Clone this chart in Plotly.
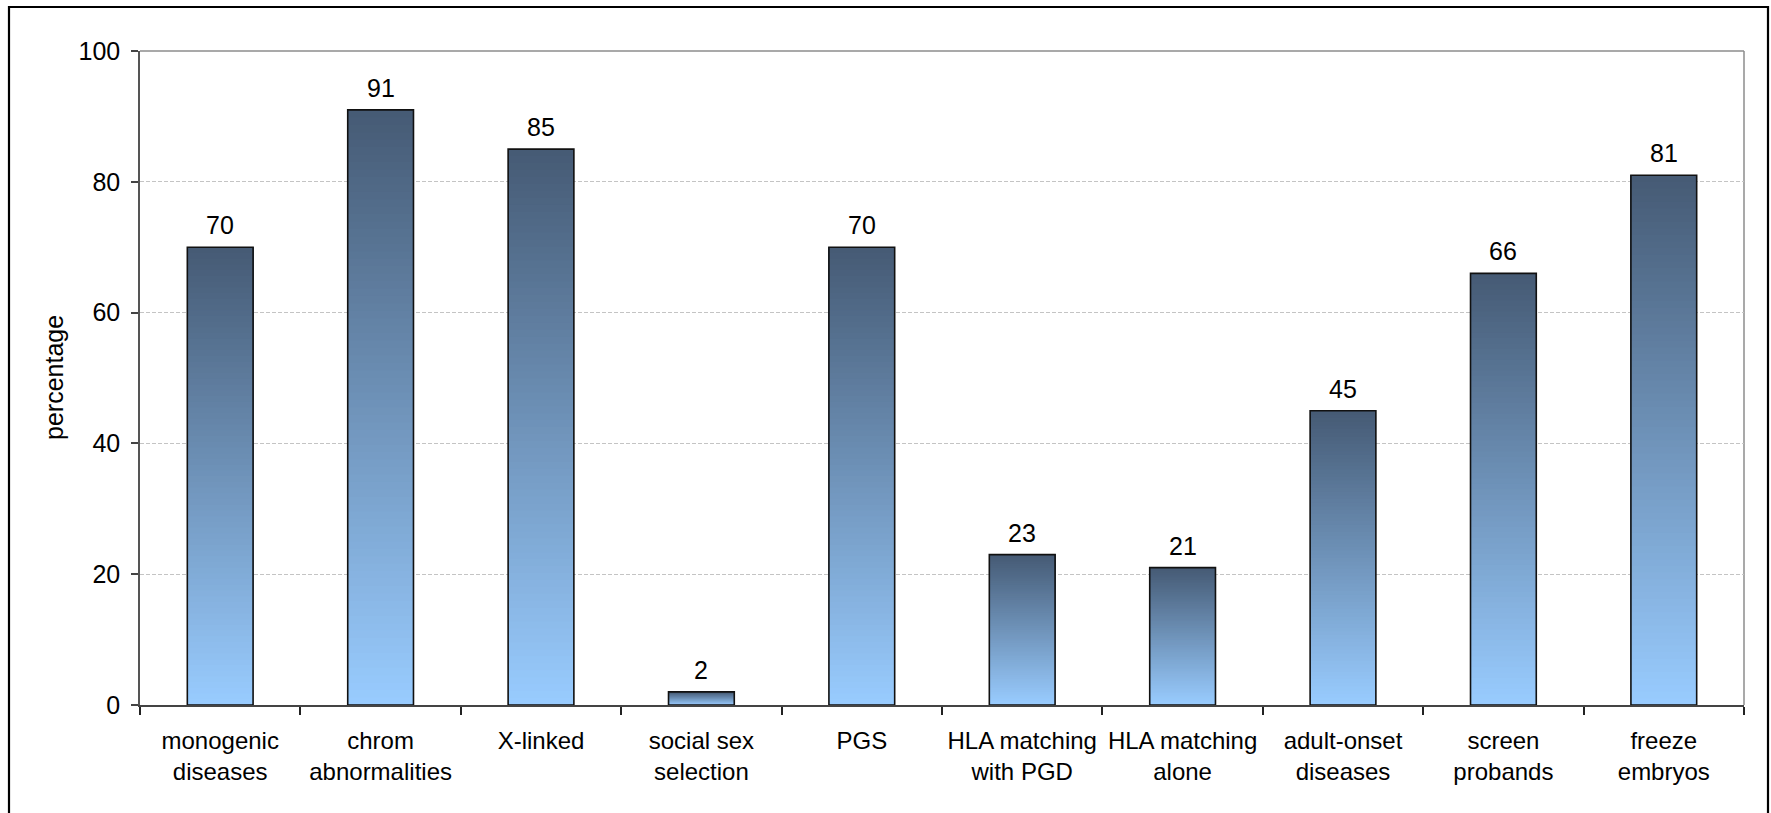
import plotly.graph_objects as go

# Survey results: share of respondents (%) per use of embryo testing
categories = [
    "monogenic<br>diseases", "chrom<br>abnormalities", "X-linked",
    "social sex<br>selection", "PGS", "HLA matching<br>with PGD",
    "HLA matching<br>alone", "adult-onset<br>diseases", "screen<br>probands",
    "freeze<br>embryos",
]
values = [70, 91, 85, 2, 70, 23, 21, 45, 66, 81]
y_ticks = [0, 20, 40, 60, 80, 100]

W, H = 1771, 813
L, R, T, B = 140, 27, 51, 108
FONT = "Liberation Sans, Arial, sans-serif"

TOP_RGB = (0x45, 0x5A, 0x74)
BOT_RGB = (0x99, 0xCC, 0xFF)
N_STEPS = 80
BAR_WIDTH = 0.41


def blend(t):
    # t = 0 at the bar base, 1 at the bar top
    r, g, b = (round(BOT_RGB[i] + (TOP_RGB[i] - BOT_RGB[i]) * t) for i in range(3))
    return f"rgb({r},{g},{b})"


fig = go.Figure()

# Vertical gradient: each layer starts a little higher and runs up to the
# bar top, so later layers paint over earlier ones without seams.
for k in range(N_STEPS):
    frac = k / N_STEPS
    fig.add_trace(go.Bar(
        x=categories,
        y=[v * (1 - frac) for v in values],
        base=[v * frac for v in values],
        width=BAR_WIDTH,
        marker=dict(color=blend((k + 0.5) / N_STEPS), line=dict(width=0)),
        hoverinfo="skip",
        showlegend=False,
    ))

# Outline of each bar
fig.add_trace(go.Bar(
    x=categories,
    y=values,
    base=0,
    width=BAR_WIDTH,
    marker=dict(color="rgba(0,0,0,0)", line=dict(color="#111111", width=1.6)),
    showlegend=False,
))

# Value labels above the bars
for c, v in zip(categories, values):
    fig.add_annotation(
        x=c, y=v, text=str(v), showarrow=False,
        yanchor="bottom", yshift=6,
        font=dict(family=FONT, size=25, color="black"),
    )

plot_w = W - L - R
plot_h = H - T - B

# y-axis title
fig.add_annotation(
    xref="paper", yref="paper",
    x=-(L - 54) / plot_w, y=0.5,
    text="percentage", textangle=-90, showarrow=False,
    xanchor="center", yanchor="middle",
    font=dict(family=FONT, size=25, color="black"),
)

# Plot-area top and right edges
fig.add_shape(type="line", xref="paper", yref="paper", x0=0, x1=1, y0=1, y1=1,
              line=dict(color="#8c8c8c", width=1.5), layer="below")
fig.add_shape(type="line", xref="paper", yref="paper", x0=1, x1=1, y0=0, y1=1,
              line=dict(color="#8c8c8c", width=1.5), layer="below")

# Outer frame around the whole chart
fig.add_shape(
    type="rect", xref="paper", yref="paper",
    x0=(9 - L) / plot_w, x1=(1768 - L) / plot_w,
    y0=-(H + 10 - (H - B)) / plot_h, y1=1 + (T - 7) / plot_h,
    line=dict(color="black", width=2.2), fillcolor="rgba(0,0,0,0)",
)

fig.update_layout(
    width=W, height=H,
    margin=dict(l=L, r=R, t=T, b=B, pad=0),
    barmode="overlay",
    plot_bgcolor="white", paper_bgcolor="white",
    font=dict(family=FONT, size=24, color="black"),
    showlegend=False,
)

fig.update_xaxes(
    type="category",
    tickson="boundaries",
    ticks="outside", ticklen=8, tickcolor="#222222", tickwidth=1.5,
    showline=True, linecolor="#444444", linewidth=1.5,
    showgrid=False,
    tickfont=dict(family=FONT, size=24, color="black"),
    ticklabelstandoff=13,
    range=[-0.5, len(categories) - 0.5],
)

fig.update_yaxes(
    range=[0, 100], tickvals=y_ticks,
    ticks="outside", ticklen=7, tickcolor="#444444", tickwidth=1.5,
    showline=True, linecolor="#555555", linewidth=1.5,
    showgrid=True, gridcolor="#c4c4c4", gridwidth=1, griddash="4px,2px",
    zeroline=False,
    tickfont=dict(family=FONT, size=25, color="black"),
    ticklabelstandoff=6,
)

fig.write_html("out.html")
